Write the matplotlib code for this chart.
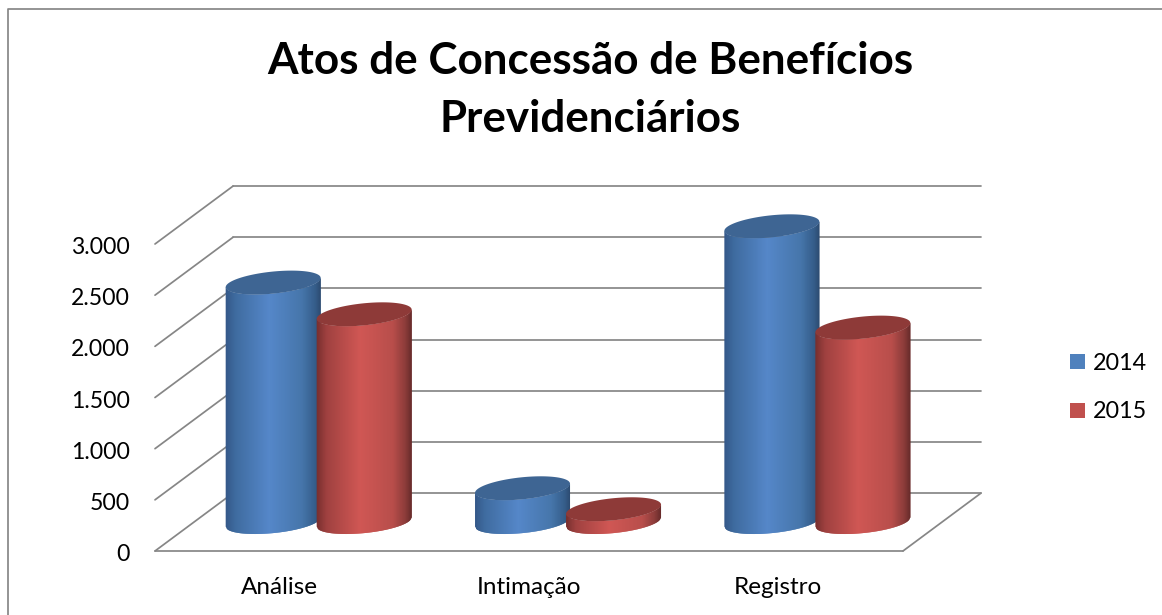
import matplotlib
matplotlib.use("Agg")
import matplotlib.pyplot as plt
import numpy as np
from matplotlib.collections import PolyCollection
from matplotlib.colors import LinearSegmentedColormap
from matplotlib.lines import Line2D
from matplotlib.patches import Patch, Polygon
from matplotlib.transforms import ScaledTranslation

plt.rcParams["font.family"] = ["Lato", "DejaVu Sans"]

TITLE = "Atos de Concessão de Benefícios\nPrevidenciários"
categories = ["Análise", "Intimação", "Registro"]
years = ["2014", "2015"]
values_2014 = [2340, 330, 2890]
values_2015 = [2030, 125, 1900]
y_ticks = [0, 500, 1000, 1500, 2000, 2500, 3000]
y_labels = ["0", "500", "1.000", "1.500", "2.000", "2.500", "3.000"]

GRID = "#868686"
BLUE = "#4f81bd"
RED = "#c0504d"
BLUE_TOP = "#3e6593"
RED_TOP = "#8e3a38"
BLUE_RAMP = [(0, "#35598a"), (0.1, "#3f6ca0"), (0.45, "#5587c9"), (0.8, "#4676ab"),
             (0.94, "#355d8a"), (1, "#2c4a70")]
RED_RAMP = [(0, "#7a302f"), (0.1, "#a04140"), (0.45, "#d05754"), (0.8, "#b84e4b"),
            (0.93, "#8c3c3a"), (1, "#652a29")]

# 3D look: how far the back wall sits from the front plane, in axis units
DEPTH_X = 0.313
DEPTH_Y = 566
BAR_W = 0.381
BAR_STEP = 0.365
ELL_B = 108  # half height of the cylinder ends
ELL_K = 45   # tilt of the cylinder ends

W, H = 1162, 615
fig = plt.figure(figsize=(W / 100, H / 100), dpi=100, facecolor="white")
ax = fig.add_axes([155 / W, 1 - 551 / H, 748 / W, 307 / H])
ax.set_xlim(-0.5, 2.5)
ax.set_ylim(0, 3000)
for s in ax.spines.values():
    s.set_visible(False)
ax.patch.set_visible(False)


def cylinder(cx, value, base, ramp, top_color, zorder):
    # side of the cylinder as thin overlapping strips, then the top ellipse
    cmap = LinearSegmentedColormap.from_list("c", ramp)
    half = BAR_W / 2
    u = np.linspace(-1, 1, 97)
    edge = -ELL_B * np.sqrt(1 - u ** 2) + ELL_K * u
    strips = []
    colors = []
    for i in range(len(u) - 1):
        j = min(i + 2, len(u) - 1)
        xs = cx + half * u[[i, j, j, i]]
        ys = [base + edge[i], base + edge[j], base + value + edge[j], base + value + edge[i]]
        strips.append(np.column_stack([xs, ys]))
        colors.append(cmap((u[i] + 1) / 2))
    ax.add_collection(PolyCollection(strips, facecolors=colors, edgecolors="none",
                                     clip_on=False, zorder=zorder), autolim=False)
    t = np.linspace(0, 2 * np.pi, 120)
    top = np.column_stack([
        cx + half * np.cos(t),
        base + value + ELL_B * np.sin(t) + ELL_K * np.cos(t),
    ])
    ax.add_patch(Polygon(top, closed=True, facecolor=top_color, edgecolor="none",
                         clip_on=False, zorder=zorder + 0.1))


# back wall, side wall and floor
line_kw = dict(color=GRID, lw=1.25, clip_on=False, zorder=1, solid_capstyle="round")
for v in y_ticks:
    ax.plot([-0.5 + DEPTH_X, 2.5 + DEPTH_X], [v + DEPTH_Y, v + DEPTH_Y], **line_kw)
    ax.plot([-0.5, -0.5 + DEPTH_X], [v, v + DEPTH_Y], **line_kw)
ax.plot([-0.5, 2.5], [0, 0], **line_kw)
ax.plot([2.5, 2.5 + DEPTH_X], [0, DEPTH_Y], **line_kw)

# bars stand half way into the depth of the floor
mid_x = DEPTH_X / 2
mid_y = DEPTH_Y / 2
z = 3
for i in range(len(categories)):
    cylinder(i + mid_x - BAR_STEP / 2, values_2014[i], mid_y, BLUE_RAMP, BLUE_TOP, z)
    cylinder(i + mid_x + BAR_STEP / 2, values_2015[i], mid_y, RED_RAMP, RED_TOP, z + 1)
    z += 2

ax.set_xticks(range(len(categories)), categories)
ax.set_yticks(y_ticks, y_labels)
ax.tick_params(axis="both", length=0, labelcolor="black")
ax.tick_params(axis="x", pad=19, labelsize=17.5)
ax.tick_params(axis="y", pad=18, labelsize=16.6)
for lbl in ax.get_yticklabels():
    lbl.set_transform(lbl.get_transform() + ScaledTranslation(0, -1.5 / 100, fig.dpi_scale_trans))

fig.text(590 / W, 1 - 61.5 / H, TITLE.split("\n")[0], ha="center", va="center",
         fontsize=31.7, fontweight="bold", color="black")
fig.text(590 / W, 1 - 119.5 / H, TITLE.split("\n")[1], ha="center", va="center",
         fontsize=31.7, fontweight="bold", color="black")

handles = [Patch(facecolor=BLUE, edgecolor="none"), Patch(facecolor=RED, edgecolor="none")]
fig.legend(handles, years, loc="center left", bbox_to_anchor=(1070 / W, 1 - 387.5 / H),
           frameon=False, fontsize=16.8, borderpad=0, borderaxespad=0,
           handlelength=0.64, handleheight=0.64, handletextpad=0.32, labelspacing=1.2)

# outer chart border, only top and left show in the crop
fig.add_artist(Line2D([7.5 / W, 7.5 / W, 1], [0, 1 - 8.5 / H, 1 - 8.5 / H],
                      color=GRID, lw=1.25))

fig.savefig("out.png", dpi=100)
